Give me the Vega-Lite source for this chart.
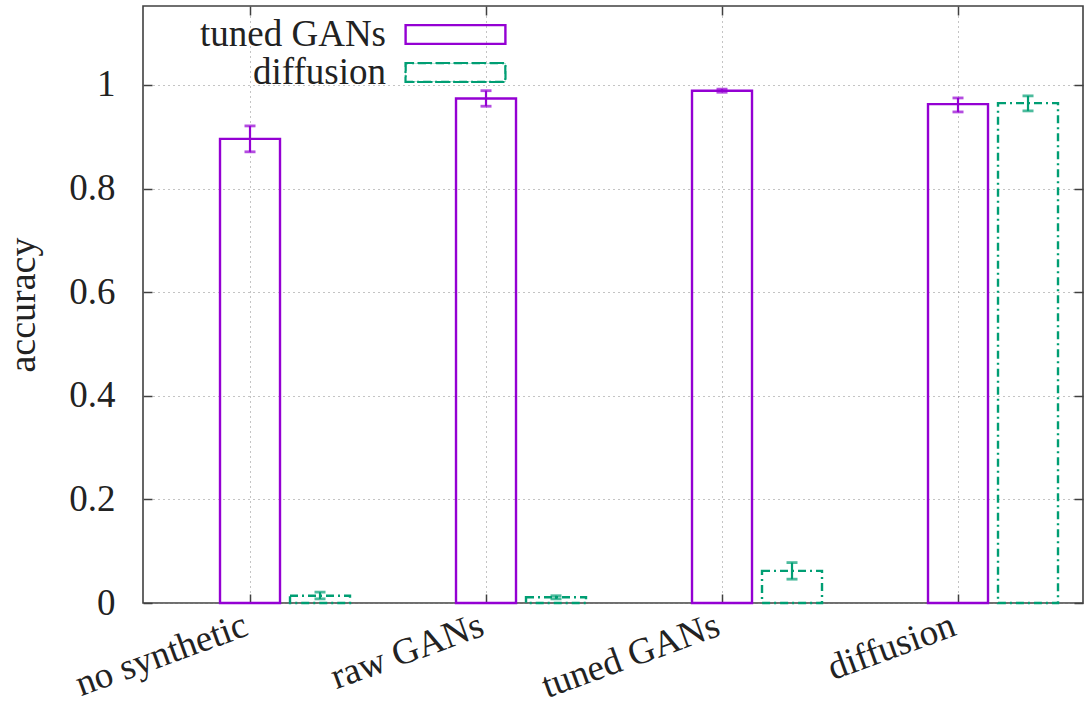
{
  "$schema": "https://vega.github.io/schema/vega-lite/v6.json",
  "width": 940,
  "height": 597,
  "autosize": {"type": "none"},
  "padding": {"left": 143, "top": 6, "right": 1, "bottom": 101},
  "background": "white",
  "config": {
    "font": "Liberation Serif",
    "view": {"stroke": "#404040", "strokeWidth": 1.6},
    "axis": {"labelColor": "#222", "titleColor": "#222", "labelFontWeight": "normal", "titleFontWeight": "normal"}
  },
  "data": {
    "values": [
      {"group": "no synthetic", "series": "tuned GANs", "value": 0.896, "lo": 0.871, "hi": 0.921},
      {"group": "no synthetic", "series": "diffusion", "value": 0.014, "lo": 0.008, "hi": 0.021},
      {"group": "raw GANs", "series": "tuned GANs", "value": 0.974, "lo": 0.959, "hi": 0.989},
      {"group": "raw GANs", "series": "diffusion", "value": 0.011, "lo": 0.008, "hi": 0.014},
      {"group": "tuned GANs", "series": "tuned GANs", "value": 0.989, "lo": 0.986, "hi": 0.992},
      {"group": "tuned GANs", "series": "diffusion", "value": 0.062, "lo": 0.046, "hi": 0.078},
      {"group": "diffusion", "series": "tuned GANs", "value": 0.963, "lo": 0.948, "hi": 0.975},
      {"group": "diffusion", "series": "diffusion", "value": 0.965, "lo": 0.950, "hi": 0.979}
    ]
  },
  "resolve": {"axis": {"x": "independent", "y": "independent"}},
  "layer": [
    {
      "mark": {"type": "bar", "fill": "transparent", "strokeWidth": 2.4},
      "encoding": {
        "x": {
          "field": "group", "type": "nominal", "sort": null,
          "scale": {"paddingInner": 0.44915, "paddingOuter": 0.2161, "align": 0.755},
          "axis": {
            "orient": "bottom", "title": null, "domain": false,
            "labelAngle": -20, "labelAlign": "right", "labelBaseline": "top",
            "labelFontSize": 37, "labelPadding": 13, "labelOffset": -45, "labelLimit": 400,
            "bandPosition": 0.2308,
            "grid": true, "gridDash": [1, 4], "gridColor": "#888", "gridWidth": 1,
            "ticks": true, "tickSize": -9, "tickColor": "#404040", "tickWidth": 1.5
          }
        },
        "xOffset": {
          "field": "series", "type": "nominal", "sort": ["tuned GANs", "diffusion"],
          "scale": {"paddingInner": 0.142857, "paddingOuter": 0}
        },
        "y": {
          "field": "value", "type": "quantitative",
          "scale": {"domain": [0, 1.1525], "nice": false, "zero": true},
          "axis": {
            "orient": "left", "title": "accuracy", "titleFontSize": 38, "titlePadding": 26,
            "values": [0, 0.2, 0.4, 0.6, 0.8, 1], "format": "~g",
            "labelFontSize": 37, "labelPadding": 37, "domain": false,
            "grid": true, "gridDash": [1, 4], "gridColor": "#888", "gridWidth": 1,
            "ticks": true, "tickSize": -9, "tickColor": "#404040", "tickWidth": 1.5
          }
        },
        "stroke": {
          "field": "series", "type": "nominal",
          "scale": {"domain": ["tuned GANs", "diffusion"], "range": ["#9400D3", "#009E73"]},
          "legend": {
            "orient": "none", "legendX": 294, "legendY": 10, "title": null,
            "symbolType": "M-3.333,-0.633L3.333,-0.633L3.333,0.633L-3.333,0.633Z M-3.32,-0.62L-3.32,0.62L3.32,0.62L3.32,-0.62Z",
            "symbolSize": 900, "symbolStrokeWidth": 2.2,
            "labelAlign": "right", "labelOffset": -88, "labelFontSize": 37, "labelColor": "#222",
            "rowPadding": 0, "labelLimit": 400
          }
        },
        "strokeDash": {
          "field": "series", "type": "nominal",
          "scale": {"domain": ["tuned GANs", "diffusion"], "range": [[1, 0], [8, 4, 2, 4]]},
          "legend": null
        }
      }
    },
    {
      "mark": {"type": "rule", "strokeWidth": 2.2},
      "encoding": {
        "x": {
          "field": "group", "type": "nominal", "sort": null,
          "axis": {
            "orient": "top", "title": null, "labels": false, "domain": false, "grid": false,
            "bandPosition": 0.2308,
            "ticks": true, "tickSize": -9, "tickColor": "#404040", "tickWidth": 1.5
          }
        },
        "xOffset": {"field": "series", "type": "nominal", "sort": ["tuned GANs", "diffusion"]},
        "y": {
          "field": "lo", "type": "quantitative",
          "axis": {
            "orient": "right", "title": null, "labels": false, "domain": false, "grid": false,
            "values": [0, 0.2, 0.4, 0.6, 0.8, 1],
            "ticks": true, "tickSize": -9, "tickColor": "#404040", "tickWidth": 1.5
          }
        },
        "y2": {"field": "hi"},
        "stroke": {"field": "series", "type": "nominal", "legend": null}
      }
    },
    {
      "mark": {"type": "tick", "size": 11, "thickness": 2.8},
      "encoding": {
        "x": {"field": "group", "type": "nominal", "sort": null, "axis": null},
        "xOffset": {"field": "series", "type": "nominal", "sort": ["tuned GANs", "diffusion"]},
        "y": {"field": "lo", "type": "quantitative", "axis": null},
        "color": {"field": "series", "type": "nominal", "legend": null, "scale": {"domain": ["tuned GANs", "diffusion"], "range": ["#9400D3", "#009E73"]}}
      }
    },
    {
      "mark": {"type": "tick", "size": 11, "thickness": 2.8},
      "encoding": {
        "x": {"field": "group", "type": "nominal", "sort": null, "axis": null},
        "xOffset": {"field": "series", "type": "nominal", "sort": ["tuned GANs", "diffusion"]},
        "y": {"field": "hi", "type": "quantitative", "axis": null},
        "color": {"field": "series", "type": "nominal", "legend": null, "scale": {"domain": ["tuned GANs", "diffusion"], "range": ["#9400D3", "#009E73"]}}
      }
    }
  ]
}
